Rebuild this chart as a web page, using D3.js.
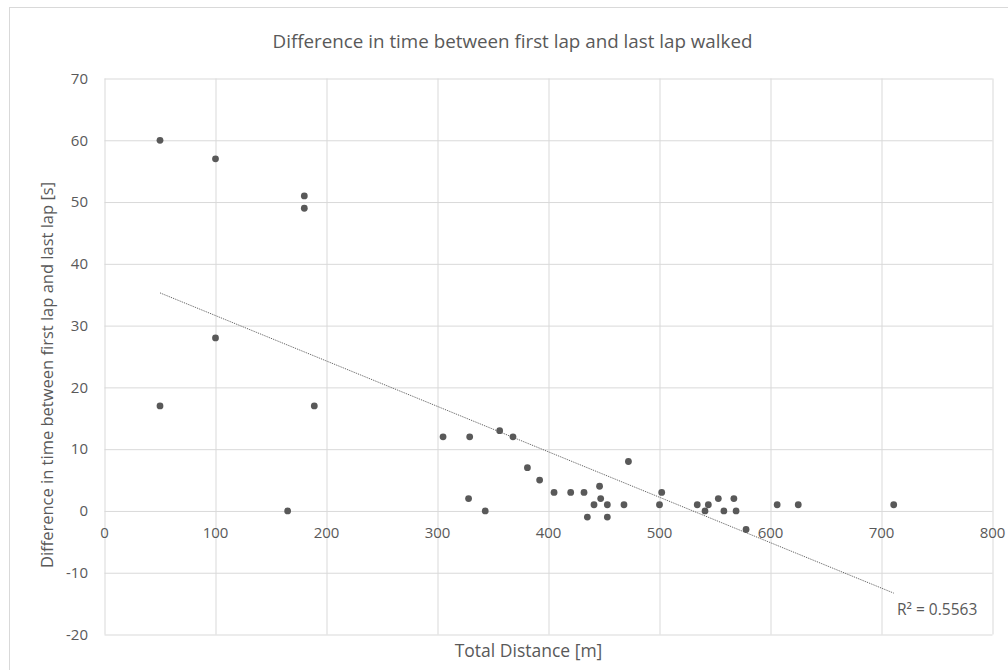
<!DOCTYPE html>
<html>
<head>
<meta charset="utf-8">
<script src="https://cdn.jsdelivr.net/npm/d3@7"></script>
<style>
  body { margin: 0; background: #fff; }
  svg { display: block; font-family: "Open Sans", sans-serif; }
  .grid line { stroke: #d9d9d9; stroke-width: 1; }
  .grid .domain { display: none; }
  .tick-label { fill: #595959; font-size: 15px; }
</style>
</head>
<body>
<svg id="chart" width="1008" height="670"></svg>
<script>
// distance walked [m] vs. difference first/last lap [s]
var distance = [50, 50, 100, 100, 180, 180, 165, 189, 305, 329, 356, 368, 328, 343,
                381, 392, 405, 420, 432, 435, 441, 446, 447, 453, 453, 468, 472,
                500, 502, 534, 541, 544, 553, 558, 567, 569, 578, 606, 625, 711];
var timeDiff = [60, 17, 57, 28, 51, 49, 0, 17, 12, 12, 13, 12, 2, 0,
                7, 5, 3, 3, 3, -1, 1, 4, 2, 1, -1, 1, 8,
                1, 3, 1, 0, 1, 2, 0, 2, 0, -3, 1, 1, 1];
// linear trendline end points
var trendX = [50, 711];
var trendY = [35.3, -13.3];
var rSquared = "R² = 0.5563";
var xTicks = [0, 100, 200, 300, 400, 500, 600, 700, 800];
var yTicks = [-20, -10, 0, 10, 20, 30, 40, 50, 60, 70];

var svg = d3.select("#chart");
var plot = { left: 104.5, right: 992.5, top: 78.5, bottom: 634.5 };
var textColor = "#595959";

var x = d3.scaleLinear().domain([0, 800]).range([plot.left, plot.right]);
var y = d3.scaleLinear().domain([-20, 70]).range([plot.bottom, plot.top]);

// chart area border (runs off the right and bottom of the picture)
svg.append("rect")
    .attr("x", 9.5)
    .attr("y", 7.5)
    .attr("width", 1020)
    .attr("height", 700)
    .attr("fill", "none")
    .attr("stroke", "#d9d9d9");

svg.append("g")
    .attr("class", "grid")
    .attr("transform", "translate(0," + plot.bottom + ")")
    .call(d3.axisBottom(x).tickValues(xTicks).tickSize(-(plot.bottom - plot.top)).tickFormat(""));

svg.append("g")
    .attr("class", "grid")
    .attr("transform", "translate(" + plot.left + ",0)")
    .call(d3.axisLeft(y).tickValues(yTicks).tickSize(-(plot.right - plot.left)).tickFormat(""));

// y tick labels
svg.append("g").selectAll("text")
    .data(yTicks)
    .enter().append("text")
    .attr("class", "tick-label")
    .attr("x", 88)
    .attr("y", function (d) { return y(d); })
    .attr("dy", "0.35em")
    .attr("text-anchor", "end")
    .text(function (d) { return d; });

// x tick labels sit just under the zero line
svg.append("g").selectAll("text")
    .data(xTicks)
    .enter().append("text")
    .attr("class", "tick-label")
    .attr("x", function (d) { return x(d); })
    .attr("y", y(0) + 27)
    .attr("text-anchor", "middle")
    .text(function (d) { return d; });

// trendline
svg.append("line")
    .attr("x1", x(trendX[0]))
    .attr("y1", y(trendY[0]))
    .attr("x2", x(trendX[1]))
    .attr("y2", y(trendY[1]))
    .attr("stroke", textColor)
    .attr("stroke-width", 1)
    .attr("stroke-dasharray", "1,1");

svg.append("g").selectAll("circle")
    .data(distance)
    .enter().append("circle")
    .attr("cx", function (d) { return x(d); })
    .attr("cy", function (d, i) { return y(timeDiff[i]); })
    .attr("r", 3.4)
    .attr("fill", textColor);

svg.append("text")
    .attr("x", 897)
    .attr("y", 615)
    .attr("fill", textColor)
    .attr("font-size", "15.5px")
    .text(rSquared);

svg.append("text")
    .attr("x", 512.5)
    .attr("y", 48)
    .attr("text-anchor", "middle")
    .attr("fill", textColor)
    .attr("font-size", "18.8px")
    .text("Difference in time between first lap and last lap walked");

svg.append("text")
    .attr("x", 528.5)
    .attr("y", 657)
    .attr("text-anchor", "middle")
    .attr("fill", textColor)
    .attr("font-size", "17.5px")
    .text("Total Distance [m]");

svg.append("text")
    .attr("transform", "translate(53,375) rotate(-90)")
    .attr("text-anchor", "middle")
    .attr("fill", textColor)
    .attr("font-size", "16.5px")
    .text("Difference in time between first lap and last lap [s]");
</script>
</body>
</html>
